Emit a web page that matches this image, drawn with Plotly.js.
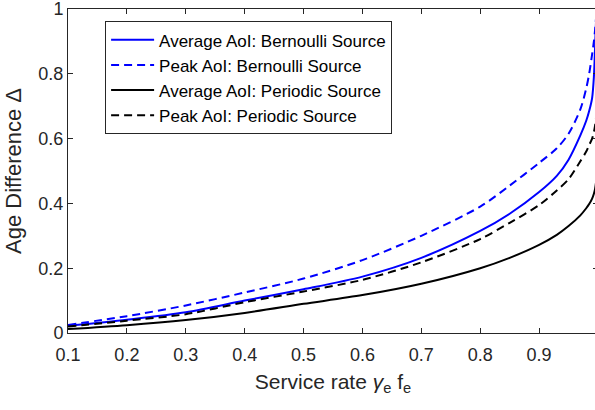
<!DOCTYPE html>
<html>
<head>
<meta charset="utf-8">
<script src="https://cdn.plot.ly/plotly-3.0.1.min.js"></script>
<style>
html, body { margin: 0; padding: 0; overflow: hidden; background: #fff; }
#chart { width: 600px; height: 410px; }
</style>
</head>
<body>
<div id="chart"></div>
<script>
// Service rate values (x axis)
const serviceRate = [0.1, 0.2, 0.3, 0.4, 0.5, 0.6, 0.7, 0.8, 0.85, 0.9, 0.93, 0.95, 0.97, 0.98, 0.985, 0.99, 0.993, 0.995, 0.997];

// Age difference values
const avgBernoulli  = [0.022, 0.041, 0.064, 0.100, 0.135, 0.174, 0.232, 0.315, 0.368, 0.435, 0.485, 0.535, 0.610, 0.655, 0.685, 0.725, 0.790, 0.880, 0.980];
const peakBernoulli = [0.025, 0.052, 0.085, 0.125, 0.168, 0.225, 0.300, 0.390, 0.455, 0.525, 0.570, 0.615, 0.690, 0.755, 0.800, 0.860, 0.900, 0.935, 0.980];
const avgPeriodic   = [0.012, 0.024, 0.040, 0.062, 0.090, 0.117, 0.152, 0.200, 0.232, 0.272, 0.303, 0.330, 0.363, 0.385, 0.398, 0.415, 0.430, 0.445, 0.470];
const peakPeriodic  = [0.020, 0.038, 0.058, 0.095, 0.128, 0.164, 0.218, 0.290, 0.340, 0.395, 0.440, 0.475, 0.530, 0.560, 0.580, 0.600, 0.620, 0.640, 0.670];

const seriesNames = ["Average AoI: Bernoulli Source", "Peak AoI: Bernoulli Source", "Average AoI: Periodic Source", "Peak AoI: Periodic Source"];
const xTickVals = [0.1, 0.2, 0.3, 0.4, 0.5, 0.6, 0.7, 0.8, 0.9];
const xTickText = ["0.1", "0.2", "0.3", "0.4", "0.5", "0.6", "0.7", "0.8", "0.9"];
const yTickVals = [0, 0.2, 0.4, 0.6, 0.8, 1];
const yTickText = ["0", "0.2", "0.4", "0.6", "0.8", "1"];

const FONT = "Liberation Sans, Arial, Helvetica, sans-serif";
const AX = "#262626";

function trace(y, name, color, dash, g) {
  return {
    x: serviceRate, y: y, name: name, type: "scatter", mode: "lines",
    legendgroup: g,
    line: { color: color, width: 2, dash: dash, shape: "spline", smoothing: 0.8 }
  };
}

const data = [
  trace(avgBernoulli, seriesNames[0], "#0000ff", "solid", "a"),
  trace(peakBernoulli, seriesNames[1], "#0000ff", "8px,5px", "b"),
  trace(avgPeriodic, seriesNames[2], "#000000", "solid", "c"),
  trace(peakPeriodic, seriesNames[3], "#000000", "8px,5px", "d")
];

const layout = {
  width: 600, height: 410,
  margin: { l: 68, r: 2, t: 9, b: 77 },
  paper_bgcolor: "#ffffff", plot_bgcolor: "#ffffff",
  font: { family: FONT, size: 17, color: AX },
  showlegend: true,
  legend: {
    x: 0.07, y: 0.962, xanchor: "left", yanchor: "top",
    bgcolor: "#ffffff", bordercolor: AX, borderwidth: 1,
    font: { family: FONT, size: 17, color: "#000000" },
    traceorder: "grouped", tracegroupgap: 0, itemwidth: 43
  },
  xaxis: {
    range: [0.1, 1.0], tickvals: xTickVals, ticktext: xTickText,
    ticks: "inside", ticklen: 5, tickcolor: AX, tickwidth: 1,
    showline: true, linecolor: AX, linewidth: 1, mirror: "allticks",
    showgrid: false, zeroline: false, ticklabelstandoff: 5,
    tickfont: { family: FONT, size: 18, color: AX },
    title: { text: "Service rate <i>γ</i><sub>e</sub> f<sub>e</sub>", font: { family: FONT, size: 21, color: AX }, standoff: 10 }
  },
  yaxis: {
    range: [0, 1], tickvals: yTickVals, ticktext: yTickText,
    ticks: "inside", ticklen: 5, tickcolor: AX, tickwidth: 1,
    showline: true, linecolor: AX, linewidth: 1, mirror: "allticks",
    showgrid: false, zeroline: false, ticklabeloverflow: "allow",
    tickfont: { family: FONT, size: 18, color: AX },
    title: { text: "Age Difference Δ", font: { family: FONT, size: 22, color: AX }, standoff: 10 }
  }
};

Plotly.newPlot("chart", data, layout, { staticPlot: true, displayModeBar: false });
</script>
</body>
</html>
